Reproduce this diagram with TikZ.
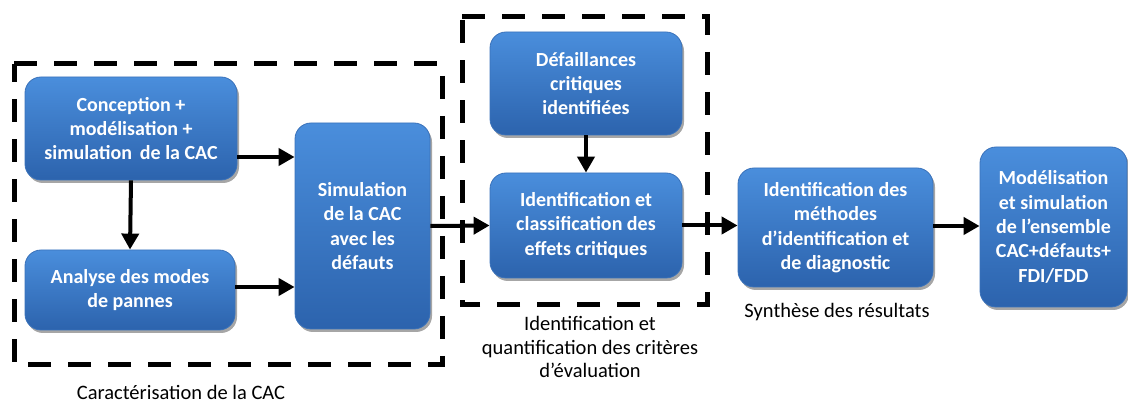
\documentclass[tikz,border=0pt]{standalone}
\usepackage{fontspec}
\setmainfont{Carlito}
\usetikzlibrary{arrows.meta,shadows}
\definecolor{btop}{HTML}{4A8EDC}
\definecolor{bbot}{HTML}{2C63AD}
\definecolor{bline}{HTML}{3A72BA}
\tikzset{
  blk/.style={rounded corners=16pt, top color=btop, bottom color=bbot, draw=bline, line width=0.8pt,
    drop shadow={shadow xshift=2pt, shadow yshift=-3pt, opacity=0.35, fill=black},
    text=white, align=center, inner sep=0pt,
    font=\bfseries\fontsize{20}{24.4}\selectfont},
  arr/.style={line width=4pt, -{Triangle[length=16pt,width=17pt]}},
  dbox/.style={line width=5pt, dash pattern=on 23pt off 17pt},
  lbl/.style={align=center, font=\fontsize{20.5}{23.5}\selectfont, text=black}
}
\begin{document}
\begin{tikzpicture}[x=1pt,y=-1pt]
\useasboundingbox (0,0) rectangle (1128,403);
% dashed group boxes
\draw[dbox] (14,64) -- (442,64) -- (442,365) -- (14,365) -- cycle;
\draw[dbox] (462,17) -- (707,17) -- (707,305) -- (462,305) -- cycle;
% blocks
\node[blk, minimum width=212pt, minimum height=103pt] (conc) at (131,128.5) {Conception +\\ modélisation +\\ simulation\, de la CAC};
\node[blk, minimum width=210pt, minimum height=80pt] (anal) at (130,290) {Analyse des modes\\ de pannes};
\node[blk, minimum width=135pt, minimum height=206pt] (simu) at (362.5,226) {Simulation\\ de la CAC\\ avec les\\ défauts};
\node[blk, minimum width=192pt, minimum height=103pt] (defa) at (586,83.5) {Défaillances\\ critiques\\ identifiées};
\node[blk, minimum width=192pt, minimum height=105pt] (iden) at (586,225.5) {Identification et\\ classification des\\ effets critiques};
\node[blk, minimum width=195pt, minimum height=119pt] (meth) at (835.5,227.5) {Identification des\\ méthodes\\ d’identification et\\ de diagnostic};
\node[blk, minimum width=147pt, minimum height=160pt] (mode) at (1053.5,227) {Modélisation\\ et simulation\\ de l’ensemble\\ CAC+défauts+\\ FDI/FDD};
% labels
\node[lbl] (l1) at (181,392) {Caractérisation de la CAC};
\node[lbl] (l2) at (590,347) {Identification et\\ quantification des critères\\ d’évaluation};
\node[lbl] (l3) at (837,312) {Synthèse des résultats};
% arrows
\draw[arr] (conc.east |- 0,157) -- (simu.west |- 0,157);
\draw[arr] (anal.east |- 0,287) -- (simu.west |- 0,287);
\draw[arr] (conc.south) -- (anal.north);
\draw[arr] (simu.east) -- (iden.west);
\draw[arr] (defa.south) -- (iden.north);
\draw[arr] (iden.east) -- (meth.west |- iden.east);
\draw[arr] (meth.east |- 0,226) -- (mode.west |- 0,226);
\end{tikzpicture}
\end{document}
